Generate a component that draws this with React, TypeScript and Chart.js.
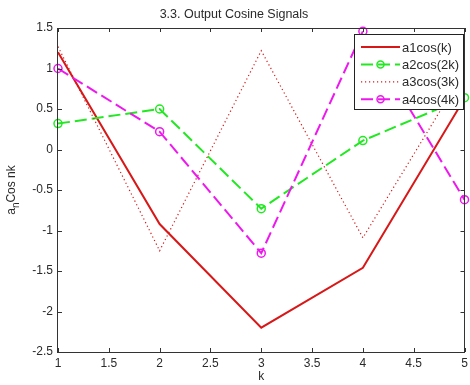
import React, { useEffect, useRef } from 'react';
import { Chart, registerables } from 'chart.js';

Chart.register(...registerables);

const K = [1, 2, 3, 4, 5];
const A1 = [1.2, -0.92, -2.2, -1.46, 0.63];
const A2 = [0.32, 0.5, -0.73, 0.11, 0.64];
const A3 = [1.27, -1.25, 1.22, -1.09, 0.97];
const A4 = [1.0, 0.22, -1.28, 1.46, -0.62];
const LABELS = ['a1cos(k)', 'a2cos(2k)', 'a3cos(3k)', 'a4cos(4k)'];
const X_TICKS = [1, 1.5, 2, 2.5, 3, 3.5, 4, 4.5, 5];
const Y_TICKS = [-2.5, -2, -1.5, -1, -0.5, 0, 0.5, 1, 1.5];
const TITLE = '3.3. Output Cosine Signals';
const X_LABEL = 'k';
const Y_LABEL_MAIN = 'a';
const Y_LABEL_SUB = 'n';
const Y_LABEL_REST = 'Cos nk';

const FONT = '"Liberation Sans", Arial, sans-serif';
const TEXT = '#2a2a2a';
const RED = '#d81818';
const GREEN = '#22e822';
const MAGENTA = '#ee18ee';

const STYLES = [
  { color: RED, dash: [] as number[], width: 2, marker: false },
  { color: GREEN, dash: [12, 5], width: 2, marker: true },
  { color: RED, dash: [1.2, 2.8], width: 1.2, marker: false },
  { color: MAGENTA, dash: [12, 5], width: 2, marker: true },
];

const SERIES = [A1, A2, A3, A4];

const decorPlugin = {
  id: 'decor',
  afterDatasetsDraw(chart: any) {
    const { ctx, chartArea, scales } = chart;
    const { left, right, top, bottom } = chartArea;
    const xs = scales.x;
    const ys = scales.y;
    ctx.save();
    // frame
    ctx.strokeStyle = '#333';
    ctx.lineWidth = 1;
    ctx.setLineDash([]);
    ctx.strokeRect(Math.round(left) - 0.5, Math.round(top) + 0.5, Math.round(right - left), Math.round(bottom - top));
    const tl = 4;
    ctx.beginPath();
    X_TICKS.forEach((v) => {
      const x = Math.round(xs.getPixelForValue(v)) + 0.5;
      ctx.moveTo(x, bottom);
      ctx.lineTo(x, bottom - tl);
      ctx.moveTo(x, top);
      ctx.lineTo(x, top + tl);
    });
    Y_TICKS.forEach((v) => {
      const y = Math.round(ys.getPixelForValue(v)) + 0.5;
      ctx.moveTo(left, y);
      ctx.lineTo(left + tl, y);
      ctx.moveTo(right, y);
      ctx.lineTo(right - tl, y);
    });
    ctx.stroke();

    // legend
    const lx = 354, ly = 34, lw = 109, lh = 75;
    ctx.fillStyle = '#fff';
    ctx.fillRect(lx, ly, lw, lh);
    ctx.strokeStyle = '#222';
    ctx.strokeRect(lx + 0.5, ly + 0.5, lw, lh);
    ctx.font = `13px ${FONT}`;
    ctx.textBaseline = 'middle';
    ctx.textAlign = 'left';
    LABELS.forEach((lab, i) => {
      const st = STYLES[i];
      const y = ly + 13 + i * 17.4;
      ctx.strokeStyle = st.color;
      ctx.lineWidth = st.width;
      ctx.setLineDash(st.dash);
      ctx.beginPath();
      ctx.moveTo(361, y);
      ctx.lineTo(400, y);
      ctx.stroke();
      if (st.marker) {
        ctx.setLineDash([]);
        ctx.lineWidth = 1.5;
        ctx.beginPath();
        ctx.arc(380.5, y, 3.5, 0, Math.PI * 2);
        ctx.stroke();
      }
      ctx.fillStyle = TEXT;
      ctx.fillText(lab, 402, y + 1);
    });

    // y label with subscript
    ctx.setLineDash([]);
    ctx.translate(15, (top + bottom) / 2);
    ctx.rotate(-Math.PI / 2);
    ctx.fillStyle = TEXT;
    ctx.textBaseline = 'alphabetic';
    ctx.font = `12px ${FONT}`;
    const wa = ctx.measureText(Y_LABEL_MAIN).width;
    const wr = ctx.measureText(Y_LABEL_REST).width;
    ctx.font = `10px ${FONT}`;
    const wn = ctx.measureText(Y_LABEL_SUB).width;
    const total = wa + wn + wr;
    let x0 = -total / 2;
    ctx.font = `12px ${FONT}`;
    ctx.fillText(Y_LABEL_MAIN, x0, 0);
    x0 += wa;
    ctx.font = `10px ${FONT}`;
    ctx.fillText(Y_LABEL_SUB, x0, 4);
    x0 += wn;
    ctx.font = `12px ${FONT}`;
    ctx.fillText(Y_LABEL_REST, x0, 0);
    ctx.restore();
  },
};

export default function App() {
  const ref = useRef<HTMLCanvasElement | null>(null);
  useEffect(() => {
    if (!ref.current) return;
    const chart = new Chart(ref.current, {
      type: 'line',
      data: {
        datasets: SERIES.map((arr, i) => ({
          label: LABELS[i],
          data: K.map((k, j) => ({ x: k, y: arr[j] })),
          borderColor: STYLES[i].color,
          borderWidth: STYLES[i].width,
          borderDash: STYLES[i].dash,
          pointRadius: STYLES[i].marker ? 4 : 0,
          pointBorderWidth: 1.5,
          pointBorderColor: STYLES[i].color,
          pointBackgroundColor: 'rgba(0,0,0,0)',
          fill: false,
          tension: 0,
          clip: false as any,
          order: 4 - i,
        })),
      },
      options: {
        responsive: false,
        animation: false,
        layout: { padding: { left: 0, right: 2, top: 0, bottom: 0 } },
        plugins: {
          legend: { display: false },
          tooltip: { enabled: false },
          title: {
            display: true,
            text: TITLE,
            color: TEXT,
            font: { family: FONT, size: 12.5, weight: 'normal' as any },
            padding: { top: 7, bottom: 6 },
          },
        },
        scales: {
          x: {
            type: 'linear',
            min: 1,
            max: 5,
            grid: { display: false, drawTicks: false },
            border: { display: false },
            ticks: {
              stepSize: 0.5,
              color: TEXT,
              padding: 4,
              maxRotation: 0,
              autoSkip: false,
              font: { family: FONT, size: 12 },
              callback: (v: any) => String(v),
            },
            title: {
              display: true,
              text: X_LABEL,
              color: TEXT,
              font: { family: FONT, size: 12 },
              padding: { top: 0, bottom: 1 },
            },
            afterFit: (s: any) => {
              s.height = 33;
              s.paddingLeft = 0;
              s.paddingRight = 0;
            },
          },
          y: {
            type: 'linear',
            min: -2.5,
            max: 1.5,
            grid: { display: false, drawTicks: false },
            border: { display: false },
            ticks: {
              stepSize: 0.5,
              color: TEXT,
              padding: 5,
              font: { family: FONT, size: 12 },
              callback: (v: any) => String(v),
            },
            afterFit: (s: any) => {
              s.width = 58;
              s.paddingTop = 0;
              s.paddingBottom = 0;
            },
          },
        },
      },
      plugins: [decorPlugin],
    });
    return () => chart.destroy();
  }, []);
  return (
    <div style={{ position: 'absolute', left: 0, top: 0, width: 470, height: 385, background: '#fff' }}>
      <canvas ref={ref} width={470} height={385} />
    </div>
  );
}
